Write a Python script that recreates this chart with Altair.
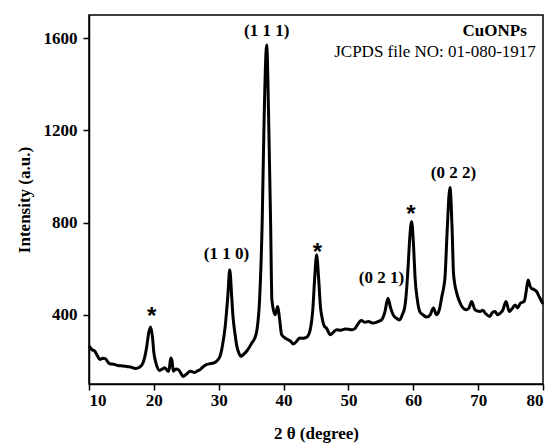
import altair as alt
import pandas as pd

two_theta = [10.0, 10.4, 10.9, 11.3, 11.7, 12.1, 12.5, 12.9, 13.2, 13.8, 14.5, 15.2, 16.0, 16.6, 17.1, 17.6,
             17.9, 18.3, 18.6, 18.9, 19.2, 19.5, 19.8, 20.0, 20.2, 20.4, 20.9, 21.3, 21.7, 22.2, 22.4, 22.6,
             22.8, 23.0, 23.4, 23.8, 24.2, 24.5, 25.0, 25.6, 26.3, 26.8, 27.1, 27.6, 28.1, 28.6, 29.2, 29.7,
             30.2, 30.6, 31.0, 31.4, 31.7, 32.0, 32.2, 32.5, 32.8, 33.1, 33.4, 33.8, 34.3, 34.7, 35.1, 35.5,
             35.9, 36.3, 36.7, 37.0, 37.4, 37.7, 38.0, 38.2, 38.7, 39.1, 39.4, 39.7, 40.2, 40.7, 41.1, 41.5,
             42.0, 42.5, 43.0, 43.6, 44.1, 44.5, 44.8, 45.1, 45.4, 45.7, 45.9, 46.3, 46.6, 47.2, 47.7, 48.2,
             48.8, 49.5, 50.0, 50.5, 51.0, 51.3, 52.0, 52.5, 53.1, 53.8, 54.5, 55.1, 55.6, 56.1, 56.5, 56.9,
             57.4, 57.9, 58.3, 58.7, 59.0, 59.2, 59.5, 59.75, 60.0, 60.3, 60.6, 61.0, 61.5, 62.1, 62.6, 63.1,
             63.6, 64.0, 64.4, 64.7, 64.9, 65.2, 65.65, 66.0, 66.2, 66.7, 67.1, 67.5, 68.2, 68.6, 69.0, 69.5,
             70.3, 70.7, 71.1, 71.8, 72.2, 72.6, 73.0, 73.4, 73.8, 74.3, 74.8, 75.2, 75.7, 76.1, 76.5, 77.1,
             77.4, 77.7, 78.0, 78.2, 78.6, 79.0, 79.4, 79.8, 80.0]
intensity = [265, 250, 242, 222, 206, 212, 210, 196, 188, 186, 180, 178, 175, 172, 167, 170,
             175, 190, 218, 262, 320, 347, 300, 236, 205, 183, 159, 165, 171, 155, 170, 213,
             200, 155, 165, 162, 145, 133, 142, 155, 150, 158, 162, 175, 184, 188, 191, 200,
             220, 270, 350, 480, 595, 480, 393, 320, 263, 235, 220, 228, 242, 258, 278, 295,
             335, 465, 800, 1250, 1570, 1250, 800, 465, 400, 436, 378, 314, 300, 292, 285, 273,
             285, 299, 298, 304, 335, 420, 560, 660, 560, 430, 393, 350, 343, 314, 325, 335,
             333, 338, 337, 335, 340, 353, 375, 368, 371, 364, 370, 378, 410, 472, 430, 400,
             385, 378, 400, 436, 520, 609, 750, 804, 720, 551, 470, 414, 400, 390, 400, 429,
             400, 420, 479, 520, 566, 750, 952, 760, 580, 494, 460, 436, 422, 430, 458, 422,
             414, 420, 407, 393, 410, 414, 400, 407, 420, 458, 414, 425, 443, 430, 450, 458,
             500, 551, 525, 515, 510, 501, 480, 458, 448]

peak_labels = ["(1 1 0)", "(1 1 1)", "(0 2 1)", "(0 2 2)"]
peak_label_x = [31.2, 37.4, 55.1, 66.2]
peak_label_y = [663, 1632, 559, 1013]

star_labels = ["*", "*", "*"]
star_x = [19.65, 45.2, 59.65]
star_y = [392, 670, 834]

sample_name = ["CuONPs"]
sample_x = [77.5]
sample_y = [1632]
jcpds_text = ["JCPDS file NO: 01-080-1917"]
jcpds_x = [78.9]
jcpds_y = [1539]

FONT = "Liberation Serif"

df = pd.DataFrame({"x": two_theta, "y": intensity})
lab = pd.DataFrame({"t": peak_labels, "x": peak_label_x, "y": peak_label_y})
st = pd.DataFrame({"t": star_labels, "x": star_x, "y": star_y})
sn = pd.DataFrame({"t": sample_name, "x": sample_x, "y": sample_y})
jc = pd.DataFrame({"t": jcpds_text, "x": jcpds_x, "y": jcpds_y})

xscale = alt.Scale(domain=[10, 80], nice=False, zero=False)
yscale = alt.Scale(domain=[100, 1700], nice=False, zero=False)

xaxis = alt.Axis(
    title="2 θ (degree)",
    values=list(range(10, 81, 5)),
    labelExpr="datum.value % 10 === 0 ? datum.label : ''",
    tickSize={"condition": {"test": "datum.value % 10 === 0", "value": 6}, "value": 4},
    grid=False,
    labelPadding=2,
    titlePadding=17,
)
yaxis = alt.Axis(
    title="Intensity (a.u.)",
    values=[400, 800, 1200, 1600],
    format="d",
    tickSize=6,
    grid=False,
    labelPadding=6,
    titlePadding=10,
)

line = alt.Chart(df).mark_line(color="black", strokeWidth=3, strokeJoin="round",
                               interpolate="monotone").encode(
    x=alt.X("x:Q", scale=xscale, axis=xaxis),
    y=alt.Y("y:Q", scale=yscale, axis=yaxis),
)

labels = alt.Chart(lab).mark_text(font=FONT, fontSize=17, fontWeight="bold", color="black",
                                  align="center", baseline="middle").encode(
    x=alt.X("x:Q", scale=xscale), y=alt.Y("y:Q", scale=yscale), text="t:N")

stars = alt.Chart(st).mark_text(font="Liberation Sans", fontSize=24, fontWeight="bold", color="black",
                                align="center", baseline="middle").encode(
    x=alt.X("x:Q", scale=xscale), y=alt.Y("y:Q", scale=yscale), text="t:N")

sname = alt.Chart(sn).mark_text(font=FONT, fontSize=17, fontWeight="bold", color="black",
                                align="right", baseline="middle").encode(
    x=alt.X("x:Q", scale=xscale), y=alt.Y("y:Q", scale=yscale), text="t:N")

jtext = alt.Chart(jc).mark_text(font=FONT, fontSize=17, fontWeight="normal", color="black",
                                align="right", baseline="middle").encode(
    x=alt.X("x:Q", scale=xscale), y=alt.Y("y:Q", scale=yscale), text="t:N")

chart = alt.layer(line, labels, stars, sname, jtext).properties(
    width=454, height=369,
    autosize=alt.AutoSizeParams(type="none"),
    padding={"left": 81, "top": 7, "right": 3, "bottom": 61},
    background="white",
).configure_view(stroke="black", strokeWidth=1.5).configure_axis(
    domainColor="black", domainWidth=1.5, tickColor="black", tickWidth=1.5,
    labelFont=FONT, labelFontSize=17, labelFontWeight="bold", labelColor="black",
    titleFont=FONT, titleFontSize=17, titleFontWeight="bold", titleColor="black",
)

chart.save("out.html", embed_options={"renderer": "svg", "actions": False})
